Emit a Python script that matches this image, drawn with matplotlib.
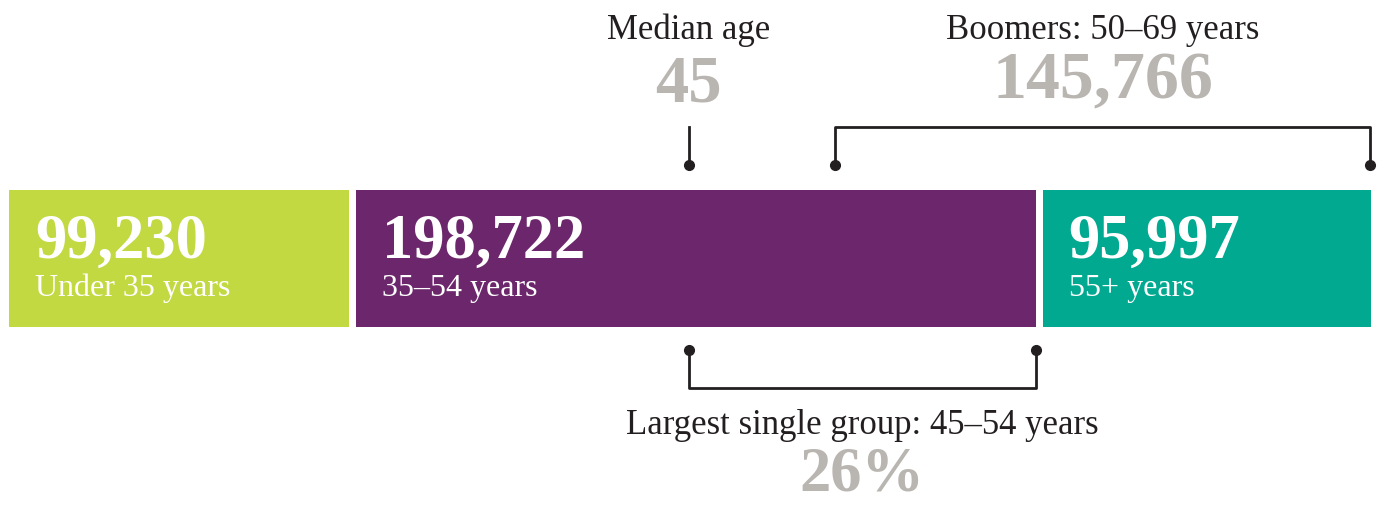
import matplotlib.pyplot as plt

# --- Data ---
groups = ['Under 35 years', '35–54 years', '55+ years']
counts = [99230, 198722, 95997]
colors = ['#C3D941', '#6C266B', '#00A98F']

median_age = 45
boomers_label = 'Boomers: 50–69 years'
boomers_count = 145766
largest_label = 'Largest single group: 45–54 years'
largest_share = 26

GRAY = '#B9B5B1'
INK = '#231F20'
SERIF = ['Liberation Serif', 'DejaVu Serif']

W, H = 1383, 506
fig = plt.figure(figsize=(W / 100, H / 100), dpi=100)
ax = fig.add_axes([0, 0, 1, 1])
ax.set_xlim(0, W)
ax.set_ylim(H, 0)
ax.axis('off')

# --- Stacked bar (pixel layout) ---
x0, x1, gap = 9, 1371, 7
bar_top, bar_h = 191, 137
scale = (x1 - x0 - gap * (len(counts) - 1)) / sum(counts)

lefts = []
left = x0
for name, n, c in zip(groups, counts, colors):
    w = n * scale
    ax.barh(bar_top + bar_h / 2, w, height=bar_h, left=left, color=c, lw=0)
    ax.text(left + 26, 258, f'{n:,}', color='white', fontsize=45,
            fontweight='bold', family=SERIF, va='baseline', ha='left')
    ax.text(left + 26, 296, name, color='white', fontsize=23,
            family=SERIF, va='baseline', ha='left')
    lefts.append((left, left + w))
    left += w + gap

purple_l, purple_r = lefts[1]
teal_r = lefts[2][1]
median_x = purple_l + 0.49 * (purple_r - purple_l)
boom_x = purple_l + 0.705 * (purple_r - purple_l)

lw = 2
dot = dict(marker='o', ms=7, color=INK, ls='none')

# median age marker
ax.plot([median_x, median_x], [128, 166], color=INK, lw=lw)
ax.plot([median_x], [166], **dot)
ax.text(median_x, 39, 'Median age', color=INK, fontsize=25, family=SERIF,
        ha='center', va='baseline')
ax.text(median_x, 101, str(median_age), color=GRAY, fontsize=48,
        fontweight='bold', family=SERIF, ha='center', va='baseline')

# boomers bracket (above)
ax.plot([boom_x, boom_x, teal_r - 1, teal_r - 1], [166, 128, 128, 166],
        color=INK, lw=lw)
ax.plot([boom_x, teal_r - 1], [166, 166], **dot)
bx = (boom_x + teal_r) / 2
ax.text(bx, 39, boomers_label, color=INK, fontsize=25, family=SERIF,
        ha='center', va='baseline')
ax.text(bx, 98, f'{boomers_count:,}', color=GRAY, fontsize=49,
        fontweight='bold', family=SERIF, ha='center', va='baseline')

# largest group bracket (below)
ax.plot([median_x, median_x, purple_r, purple_r], [351, 389, 389, 351],
        color=INK, lw=lw)
ax.plot([median_x, purple_r], [351, 351], **dot)
lx = (median_x + purple_r) / 2
ax.text(lx, 434, largest_label, color=INK, fontsize=25, family=SERIF,
        ha='center', va='baseline')
ax.text(lx, 491, f'{largest_share}%', color=GRAY, fontsize=45,
        fontweight='bold', family=SERIF, ha='center', va='baseline')

fig.savefig('out.png', dpi=100, facecolor='white')
